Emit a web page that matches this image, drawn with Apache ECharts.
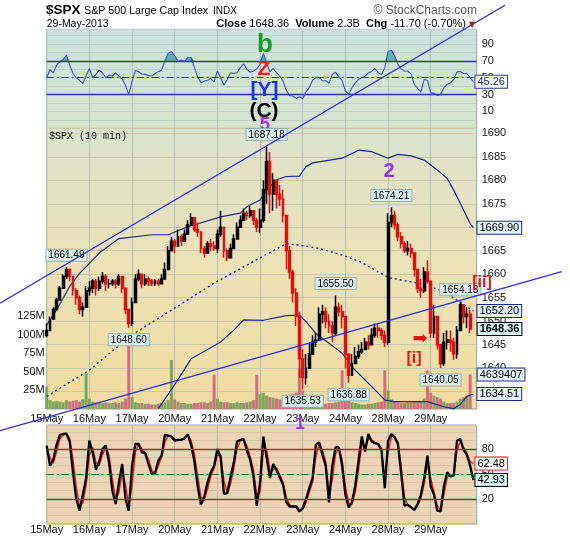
<!DOCTYPE html>
<html><head><meta charset="utf-8">
<script src="https://cdn.jsdelivr.net/npm/echarts/dist/echarts.min.js"></script>
<style>html,body{margin:0;padding:0;background:#fff}#c{width:570px;height:540px}</style>
</head><body><div id="c"></div>
<script>
// ---------------- data ----------------
const days = ['15May','16May','17May','20May','21May','22May','23May','24May','28May','29May'];
const slots = ['09:30','10:00','10:30','11:00','11:30','12:00','12:30','13:00','13:30','14:00','14:30','15:00','15:30'];

const firstOpen = 1647;
const closes = [
1648,1650.5,1652.5,1654.5,1657,1659.5,1661,1659.5,1656.5,1655,1652.5,1653,1656.5,
1657,1658.5,1657,1658.5,1659.5,1658,1658,1658.5,1658,1659.5,1657,1652.5,1649.5,
1654,1659,1660,1658,1659,1658.5,1658,1658.5,1658,1659,1661,1665,1667,
1666,1668,1667,1668.5,1670.5,1672,1669.5,1669,1665.5,1664.5,1666.5,1666,1665.5,
1668.5,1670,1665,1663.5,1665.5,1667.5,1670,1671.5,1673,1672.5,1673.5,1671.5,1670,
1671.5,1678,1684,1677,1680,1677,1676,1672.5,1665,1660.5,1656,1651,1642,
1638,1640,1643,1645.5,1646,1651.5,1652,1650,1649,1647.5,1653,1652,1651,
1643,1638.5,1641,1642.5,1643.5,1644,1645.5,1645,1647,1648.5,1648,1647,1645.5,
1671,1672.5,1670.5,1668,1666.5,1665,1665.5,1664.5,1661,1657,1656.5,1660.5,1658.5,
1647.5,1651,1645,1641,1645.5,1646,1645.5,1643,1648,1653.5,1651,1651.5,1648.36];
const lows = [
1646.6,1648,1650.5,1652.5,1654.5,1657,1659,1658.5,1655.5,1653.5,1651.5,1651,1653,
1655.5,1656,1655.5,1656.5,1658,1656.5,1657,1657.5,1657,1657.5,1656,1651.5,1648.6,
1649,1654,1658.5,1657,1657.5,1657.5,1657.5,1657.5,1657.5,1658,1659,1661,1665,
1664.5,1666,1666,1667,1668.5,1670.5,1669,1668,1664.5,1663.5,1664.5,1665,1665,
1664.5,1668,1663.5,1662.8,1663.5,1665.5,1667.5,1670,1671.5,1671.5,1672,1670.5,1669,
1668.7,1671,1675,1673,1673.5,1674,1674.5,1671,1661,1659,1654,1649,1638,
1635.53,1636.5,1640,1643.5,1644.5,1646,1649.5,1648.5,1647.5,1645.5,1647,1651,1648.5,
1640,1636.88,1638.5,1641,1642,1643,1644,1644,1645.5,1646.5,1646.5,1646,1644.5,
1645,1670,1669.5,1667,1665.5,1664.5,1664,1663.5,1659.5,1656,1655,1656,1658,
1646.5,1646.5,1644,1640.05,1640.5,1644,1643.5,1641.8,1642,1648,1649.5,1648.5,1647.5];
const highs = [
1649.5,1651,1653,1655,1657.5,1660,1661.49,1661.2,1659.5,1657,1655.5,1654,1657.5,
1658.5,1659,1659,1659.5,1660.5,1660,1659,1659,1659,1660,1659,1656,1652,
1655,1660,1661,1660,1660,1659.5,1659,1659,1659,1660,1662.5,1666,1668,
1667.5,1669.5,1668.5,1669.5,1671.5,1673,1672,1671,1669,1666,1667,1667.5,1667,
1669.5,1673.5,1670,1665.5,1666.5,1668.5,1671,1672.5,1674,1673.5,1674.5,1673,1672,
1674,1680,1687.18,1686,1681.5,1680,1679,1678,1672,1666,1661,1657,1652,
1644,1643,1645.5,1647,1647.5,1653,1653.5,1653,1651.5,1650,1655.5,1654,1653.5,
1650,1642,1643,1644.5,1645,1645.5,1646.5,1647,1648.5,1649.5,1649.5,1648.5,1648,
1673,1674.21,1673.5,1671,1669,1667,1667,1666.5,1664,1661,1659,1661.5,1663,
1658.5,1653.5,1650,1644,1647.5,1648,1648,1646.5,1649,1654.13,1653.5,1653,1652.5];
// volume in millions
const volumes = [
30,12,10,11,10,9,12,10,11,12,10,13,48,
14,10,9,9,8,9,8,8,9,8,10,14,88,
16,9,8,8,7,7,6,6,7,8,9,12,66,
13,10,8,8,7,7,8,8,9,9,8,10,46,
14,10,9,9,8,8,9,8,8,9,10,12,46,
20,22,18,16,15,14,13,14,16,18,20,22,55,
25,14,10,9,8,8,8,7,8,8,9,10,52,
16,12,9,8,7,6,6,7,7,8,9,10,52,
25,13,10,9,8,8,9,9,10,10,11,14,52,
22,18,16,14,10,8,8,8,10,14,16,18,46.39407];
const lastVolumeText = '4639407';

const rsi = [
50,59.7,55.8,65,69.4,71.4,77,65,55,50,47,43,52,
61,50,54,59,56,50,53,52,55.8,51.9,48.5,41,30,
46,58.5,57,54.5,54,52.5,52,55,57,59,70,79,81,
76,69.4,71,69.5,74,74,62,51,44,46,47,49,45,
58,50,41,48,56,55,56,62,66.5,60,56.5,58,60.5,
66,79,68,57,61,56,52,46,35,29,28,25.5,27.5,
25,33,38.5,47,50.5,50.5,46.5,46.5,43.5,54,56.5,51,46.5,
34,30.5,38,44,48,50,51.9,55.8,57.5,61,56,53.5,62,
81,83,76,66,60.5,58,57.7,54.5,42,37.5,33,48,47,
32,31.5,29,30,38,42,44,48,57,57.5,55,55,50,45.26];
const stochK = [
84,60,67,85,97,98,98.5,89,52,20,6,25,45,
90,76,55,65,80,84,64,30,14,40,62,20,6,
60,86,86,76,75,62,50,51,66,72,97,96,95,
90,91,91,93,97.5,85,65,35,13,23,40,52,60,
80,70,26,27,46,64,89,91,92,78,67,47,12,
40,95,70,45,62,55,46,37,16,11,11,11,5,
9,20,33,45,85,88,73,60,16,60,82,82,60,
25,10,16,36,66,95,77,98,89,87,86,78,33,
90,98,94,86,50,12,13,10,7,14,25,45,72,
35,25,6,5,35,52,47,48,90,92,79,73,60,42.93];
const stochD = [
80,70,63,76,92,97,98,93,68,35,12,15,36,
72,82,64,60,73,82,72,44,20,28,52,38,12,
35,76,86,80,75,68,55,50,60,70,88,96,95,
92,90,91,92,96,90,74,48,22,18,32,47,57,
72,74,42,27,38,56,80,90,91,84,71,55,25,
28,78,80,55,55,57,49,40,22,13,11,11,7,
8,15,28,40,70,87,79,65,30,42,74,82,67,
35,15,14,28,55,85,83,92,91,88,86,80,45,
75,95,95,88,60,22,13,11,8,12,21,38,63,
45,28,12,6,25,46,48,48,78,90,82,75,65,62.48];

const upperBand = [[0,1649.2],[3,1652.4],[7,1657.4],[10,1660.2],[13,1662.3],[16,1664.5],[22,1667.6],[32,1668.4],[37,1668.4],[43,1670.1],[53,1672.2],[59,1673],[61,1674.4],[65,1675.8],[67,1677.9],[70,1680.1],[73,1680.8],[77,1680.9],[79,1682.9],[81,1683.7],[90,1684.7],[95,1686.4],[99,1686.1],[104,1684.7],[107,1685.5],[111,1685.2],[115,1684.3],[119,1682.2],[122,1680.4],[124,1677.9],[126,1675.1],[129,1670.8],[130,1669.9]];
const middleBand = [[0,1634],[13,1639.6],[26,1647.1],[39,1652.8],[51,1658.1],[65,1663.5],[73,1666.5],[77,1666.2],[83,1665.5],[90,1664.1],[96,1662.5],[101,1660.5],[104,1659.3],[113,1658.1],[120,1656.6],[125,1654.5],[130,1652.2]];
const lowerBand = [[34,1631.4],[39,1636.5],[44,1642],[49,1644],[53,1645.6],[57,1648.1],[60,1650.3],[66,1650.2],[73,1651.2],[77,1651.3],[79,1649.9],[82,1647.4],[86,1645.3],[90,1643.2],[93,1640.3],[97,1637.5],[101,1634.7],[103,1633.2],[106,1632.9],[116,1632.9],[121,1631.8],[124,1631.4],[126,1632.3],[128,1634],[130,1634.51]];

const trendUpper = [[-14.23,1653.81],[139.64,1717.24]];
const trendLower = [[-14.23,1626.7],[156.92,1660.54]];

const pivotIdx  = [6,25,67,78,88,92,105,120,126];
const pivotKind = ['H','L','H','L','H','L','H','L','H'];

const rsiTickLabels = [10,30,50,70,90];
const stochTickLabels = [20,50,80];
const volumeTickLabels = [25,50,75,100,125];

// ---------------- build ----------------
const cats = [];
days.forEach(d => slots.forEach(t => cats.push(d + ' ' + t)));
cats.push('pad 1', 'pad 2');
const isDayStart = (i, v) => String(v).endsWith('09:30');
const dayLabel = v => String(v).endsWith('09:30') ? String(v).split(' ')[0] : '';

const candles = closes.map((c, i) => [i === 0 ? firstOpen : closes[i - 1], c, lows[i], highs[i]]);
const volData = volumes.map((v, i) => ({
  value: v,
  itemStyle: { color: (i === 0 || closes[i] >= closes[i - 1]) ? '#7ea55c' : '#d0707c' }
}));
const pivots = pivotIdx.map((idx, j) => {
  const hi = pivotKind[j] === 'H';
  const v = hi ? highs[idx] : lows[idx];
  return { coord: [idx, v], value: v, label: { position: hi ? 'top' : 'bottom', distance: 6 } };
});

const F = 'Liberation Sans, Arial, sans-serif';
const grad = stops => new echarts.graphic.LinearGradient(0, 0, 0, 1,
  stops.map((c, i) => ({ offset: i / (stops.length - 1), color: c })));
const L = 46.7, R = 570 - 476.7;
const hideAxis = { axisLine: { show: false }, axisTick: { show: false }, axisLabel: { show: false }, splitLine: { show: false } };
const boxLabel = (border, bg, extra) => Object.assign({
  show: true, fontSize: 11, fontFamily: F, color: '#000', backgroundColor: bg,
  borderColor: border, borderWidth: 1, padding: [1, 2, 0, 2]
}, extra || {});

const option = {
  animation: false,
  backgroundColor: '#ffffff',
  grid: [
    { left: L, right: R, top: 29.3, height: 99, show: true, backgroundColor: grad(['#cae2df', '#d8e6cb']), borderColor: '#8fa3ad', borderWidth: 1, outerBoundsMode: 'none', containLabel: false },
    { left: L, right: R, top: 128.3, height: 286.9, show: false, outerBoundsMode: 'none', containLabel: false },
    { left: L, right: R, top: 425, height: 99, show: true, backgroundColor: '#ecd5b6', borderColor: '#8fa3ad', borderWidth: 1, outerBoundsMode: 'none', containLabel: false },
    { left: L, right: R, top: 128.3, height: 280.7, show: true, z: -1, backgroundColor: grad(['#dce3ce', '#ece2b6', '#f1dca0']), borderColor: '#8fa3ad', borderWidth: 1, outerBoundsMode: 'none', containLabel: false },
    { left: 0, top: 0, width: 570, height: 540, show: false, outerBoundsMode: 'none', containLabel: false }
  ],
  xAxis: [
    { gridIndex: 0, type: 'category', data: cats, boundaryGap: false, axisLine: { show: false }, axisTick: { show: false }, axisLabel: { show: false },
      splitLine: { show: true, interval: isDayStart, lineStyle: { color: '#b1c3bf', width: 1 } } },
    Object.assign({ gridIndex: 1, type: 'category', data: cats, boundaryGap: false }, hideAxis),
    { gridIndex: 2, type: 'category', data: cats, boundaryGap: false, axisLine: { show: false }, axisTick: { show: false },
      axisLabel: { show: true, interval: isDayStart, formatter: dayLabel, margin: 0, fontSize: 11, fontFamily: F, color: '#111' },
      splitLine: { show: true, interval: isDayStart, lineStyle: { color: '#bfb6a4', width: 1 } } },
    { gridIndex: 3, type: 'category', data: cats, boundaryGap: false, axisLine: { show: false }, axisTick: { show: false },
      axisLabel: { show: true, interval: isDayStart, formatter: dayLabel, margin: 4, fontSize: 11, fontFamily: F, color: '#111' },
      splitLine: { show: true, interval: isDayStart, lineStyle: { color: '#b5bdb0', width: 1 } } },
    Object.assign({ gridIndex: 4, type: 'value', min: -14.23, max: 159.45, show: false }, hideAxis)
  ],
  yAxis: [
    { gridIndex: 0, type: 'value', min: -10, max: 107.5, interval: 10, position: 'right', axisLine: { show: false }, axisTick: { show: false },
      axisLabel: { formatter: v => rsiTickLabels.includes(v) ? String(v) : '', fontSize: 11, fontFamily: F, color: '#111', margin: 5 },
      splitLine: { show: true, lineStyle: { color: '#bfd3cb', width: 1 } } },
    { gridIndex: 1, type: 'value', min: 1630, max: 1691.06, interval: 5, position: 'right', axisLine: { show: false }, axisTick: { show: false },
      axisLabel: { formatter: v => (v % 5 === 0 && v > 1630 && v <= 1690) ? String(v) : '', fontSize: 11, fontFamily: F, color: '#111', margin: 5 },
      splitLine: { show: true, showMinLine: false, lineStyle: { color: '#ccc9ad', width: 1 } } },
    { gridIndex: 2, type: 'value', min: -10, max: 108.8, interval: 10, position: 'right', axisLine: { show: false }, axisTick: { show: false },
      axisLabel: { formatter: v => stochTickLabels.includes(v) ? String(v) : '', fontSize: 11, fontFamily: F, color: '#111', margin: 5 },
      splitLine: { show: true, lineStyle: { color: '#dbc3a6', width: 1 } } },
    { gridIndex: 3, type: 'value', min: 0, max: 378.1, interval: 25, position: 'left', axisLine: { show: false }, axisTick: { show: false },
      axisLabel: { formatter: v => volumeTickLabels.includes(v) ? v + 'M' : '', fontSize: 11, fontFamily: F, color: '#111', margin: 2 },
      splitLine: { show: false } },
    Object.assign({ gridIndex: 4, type: 'value', min: 1603.43, max: 1718.37, show: false }, hideAxis)
  ],
  series: [
    { type: 'line', name: 'rsiOB', xAxisIndex: 0, yAxisIndex: 0, data: rsi.map(v => Math.max(v, 70)), symbol: 'none', silent: true,
      lineStyle: { width: 0 }, areaStyle: { origin: 70, color: '#5fb0a7', opacity: 1 }, z: 2 },
    { type: 'line', name: 'RSI', xAxisIndex: 0, yAxisIndex: 0, data: rsi, symbol: 'none', silent: true,
      lineStyle: { color: '#3b4fd6', width: 1.1 }, z: 3,
      markLine: { symbol: 'none', silent: true, label: { show: false },
        data: [
          { yAxis: 70, lineStyle: { color: '#2a3a9e', width: 1.3, type: 'solid' } },
          { yAxis: 30, lineStyle: { color: '#2a3a9e', width: 1.3, type: 'solid' } },
          { yAxis: 50, lineStyle: { color: '#2a3a9e', width: 1.1, type: [7, 3, 2, 3] } }
        ] },
      endLabel: boxLabel('#2a3a9e', '#ffffff', { color: '#1b2a8a', distance: 2, formatter: p => Number(p.value).toFixed(2) }) },
    { type: 'bar', name: 'Volume', xAxisIndex: 3, yAxisIndex: 3, data: volData, barWidth: 3, silent: true, z: 2,
      markPoint: { symbol: 'rect', symbolSize: 1, itemStyle: { color: 'rgba(0,0,0,0)' }, silent: true,
        data: [{ coord: [volumes.length - 1, volumes[volumes.length - 1]], value: volumes[volumes.length - 1] }],
        label: boxLabel('#1b2a8a', '#e3f3fb', { position: 'right', distance: 7, formatter: () => lastVolumeText }) } },
    { type: 'line', name: 'BB upper', xAxisIndex: 1, yAxisIndex: 1, data: upperBand, symbol: 'none', silent: true,
      lineStyle: { color: '#1b2a8a', width: 1.2 }, z: 3,
      endLabel: boxLabel('#1b2a8a', '#e3f3fb', { distance: 4, formatter: p => p.value[1].toFixed(2) }) },
    { type: 'line', name: 'BB mid', xAxisIndex: 1, yAxisIndex: 1, data: middleBand, symbol: 'none', silent: true,
      lineStyle: { color: '#1b2a8a', width: 1.4, type: [2, 3] }, z: 3,
      endLabel: boxLabel('#1b2a8a', '#e3f3fb', { distance: 4, formatter: p => p.value[1].toFixed(2) }) },
    { type: 'line', name: 'BB lower', xAxisIndex: 1, yAxisIndex: 1, data: lowerBand, symbol: 'none', silent: true,
      lineStyle: { color: '#1b2a8a', width: 1.2 }, z: 3,
      endLabel: boxLabel('#1b2a8a', '#e3f3fb', { distance: 4, formatter: p => p.value[1].toFixed(2) }) },
    { type: 'candlestick', name: '$SPX', xAxisIndex: 1, yAxisIndex: 1, data: candles, barWidth: 2.4, silent: true, z: 4,
      itemStyle: { color: '#000', color0: '#e01010', borderColor: '#000', borderColor0: '#e01010', borderColorDoji: '#000', borderWidth: 1.5 },
      markPoint: { symbol: 'rect', symbolSize: 1, itemStyle: { color: 'rgba(0,0,0,0)' }, silent: true, z: 6,
        label: boxLabel('#8fb0b6', '#dcf1ef', { fontSize: 10, formatter: p => Number(p.value).toFixed(2) }),
        data: pivots.concat([{ coord: [closes.length - 1, closes[closes.length - 1]], value: closes[closes.length - 1],
          label: boxLabel('#000', '#d9f2f2', { fontWeight: 'bold', fontSize: 11, position: 'right', distance: 7 }) }]) } },
    { type: 'line', name: '%D', xAxisIndex: 2, yAxisIndex: 2, data: stochD, symbol: 'none', silent: true,
      lineStyle: { color: '#ee1b1b', width: 1.4 }, z: 3,
      endLabel: boxLabel('#ee1b1b', '#ffffff', { distance: 2, formatter: p => Number(p.value).toFixed(2) }) },
    { type: 'line', name: '%K', xAxisIndex: 2, yAxisIndex: 2, data: stochK, symbol: 'none', silent: true,
      lineStyle: { color: '#000', width: 2.3 }, z: 4,
      markLine: { symbol: 'none', silent: true, label: { show: false },
        data: [
          { yAxis: 80, lineStyle: { color: '#1d6b2a', width: 1.3, type: 'solid' } },
          { yAxis: 20, lineStyle: { color: '#1d6b2a', width: 1.3, type: 'solid' } },
          { yAxis: 50, lineStyle: { color: '#1d6b2a', width: 1.1, type: [7, 3, 2, 3] } }
        ] },
      endLabel: boxLabel('#000', '#d9f2f2', { distance: 2, formatter: p => Number(p.value).toFixed(2) }) },
    { type: 'line', name: 'trend A', xAxisIndex: 4, yAxisIndex: 4, data: trendUpper, symbol: 'none', silent: true,
      lineStyle: { color: '#2b2bf0', width: 1.3 }, z: 10 },
    { type: 'line', name: 'trend B', xAxisIndex: 4, yAxisIndex: 4, data: trendLower, symbol: 'none', silent: true,
      lineStyle: { color: '#2b2bf0', width: 1.3 }, z: 10 }
  ],
  graphic: [
    { type: 'text', x: 46, y: 10.5, z: 20, style: { text: '$SPX', font: 'bold 13.5px Liberation Sans', fill: '#000', align: 'left', verticalAlign: 'middle' } },
    { type: 'text', x: 84, y: 11, z: 20, style: { text: 'S&P 500 Large Cap Index', font: '10.7px Liberation Sans', fill: '#000', align: 'left', verticalAlign: 'middle' } },
    { type: 'text', x: 213, y: 11.5, z: 20, style: { text: 'INDX', font: '10px Liberation Sans', fill: '#000', align: 'left', verticalAlign: 'middle' } },
    { type: 'text', x: 46.7, y: 24, z: 20, style: { text: '29-May-2013', font: '10.5px Liberation Sans', fill: '#000', align: 'left', verticalAlign: 'middle' } },
    { type: 'text', x: 466, y: 24, z: 20, style: { text: '{b|Close} 1648.36  {b|Volume} 2.3B  {b|Chg} -11.70 (-0.70%)', font: '11px Liberation Sans', fill: '#000', align: 'right', verticalAlign: 'middle',
      rich: { b: { font: 'bold 11px Liberation Sans', fill: '#000' } } } },
    { type: 'text', x: 472, y: 24.5, z: 20, style: { text: '▼', font: '8px DejaVu Sans', fill: '#b01020', align: 'center', verticalAlign: 'middle' } },
    { type: 'text', x: 477, y: 11, z: 20, style: { text: '© StockCharts.com', font: '12px Liberation Sans', fill: '#555', align: 'right', verticalAlign: 'middle' } },
    { type: 'text', x: 49, y: 136, z: 20, style: { text: '$SPX (10 min)', font: '10px Liberation Mono', fill: '#111', align: 'left', verticalAlign: 'middle' } },
    { type: 'text', x: 265, y: 45, z: 20, style: { text: 'b', font: 'bold 26px Liberation Sans', fill: '#1c9a1c', align: 'center', verticalAlign: 'middle' } },
    { type: 'text', x: 264, y: 69, z: 20, style: { text: 'Z', font: 'bold 21px Liberation Sans', fill: '#ff1a1a', align: 'center', verticalAlign: 'middle' } },
    { type: 'text', x: 264.5, y: 90.5, z: 20, style: { text: '[Y]', font: 'bold 21px Liberation Sans', fill: '#1a33ee', align: 'center', verticalAlign: 'middle' } },
    { type: 'text', x: 264, y: 111.5, z: 20, style: { text: '(C)', font: 'bold 21px Liberation Sans', fill: '#000', align: 'center', verticalAlign: 'middle' } },
    { type: 'text', x: 265, y: 125, z: 1, style: { text: '5', font: 'bold 18px Liberation Sans', fill: '#a033ee', align: 'center', verticalAlign: 'middle' } },
    { type: 'text', x: 389, y: 171, z: 20, style: { text: '2', font: 'bold 20px Liberation Sans', fill: '#9933ee', align: 'center', verticalAlign: 'middle' } },
    { type: 'text', x: 300, y: 424, z: 20, style: { text: '1', font: 'bold 17px Liberation Sans', fill: '#9933ee', align: 'center', verticalAlign: 'middle' } },
    { type: 'text', x: 482, y: 283, z: 20, style: { text: '[ii]', font: 'bold 16px Liberation Sans', fill: '#ee1111', align: 'center', verticalAlign: 'middle' } },
    { type: 'text', x: 414, y: 359, z: 20, style: { text: '[i]', font: 'bold 16px Liberation Sans', fill: '#ee1111', align: 'center', verticalAlign: 'middle' } },
    { type: 'text', x: 420, y: 339, z: 20, style: { text: '➡', font: '18px DejaVu Sans', fill: '#ee1111', align: 'center', verticalAlign: 'middle' } }
  ]
};

const chart = echarts.init(document.getElementById('c'), null, { renderer: 'canvas', width: 570, height: 540 });
chart.setOption(option);
</script>
</body></html>
